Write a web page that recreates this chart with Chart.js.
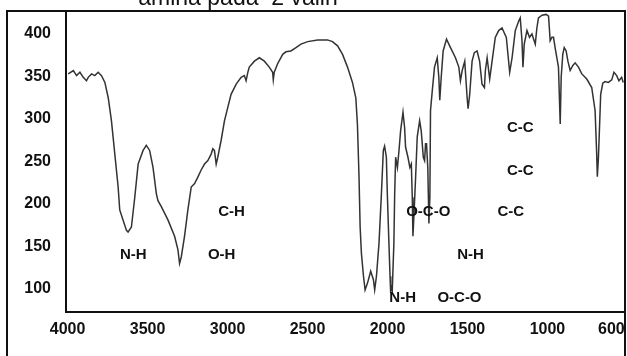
<!DOCTYPE html>
<html>
<head>
<meta charset="utf-8">
<script src="https://cdn.jsdelivr.net/npm/chart.js@4"></script>
<style>
  html, body { margin: 0; padding: 0; background: #fff; overflow: hidden; }
  #wrap { position: relative; width: 640px; height: 356px; }
</style>
</head>
<body>
<div id="wrap"><canvas id="spektrum"></canvas></div>
<script>
// bilangan gelombang (cm-1) dan intensitas
const wavenumber = [
  3996, 3964, 3944, 3923, 3902, 3882, 3871, 3850, 3830, 3809, 3788, 3767, 3746, 3726, 3705, 3684,
  3674, 3653, 3632, 3622, 3601, 3580, 3559, 3528, 3508, 3487, 3466, 3445, 3435, 3414, 3372, 3331,
  3310, 3300, 3289, 3269, 3248, 3227, 3206, 3185, 3165, 3144, 3123, 3102, 3092, 3082, 3071, 3061,
  3040, 3019, 2998, 2978, 2946, 2915, 2895, 2884, 2873, 2864, 2832, 2801, 2770, 2739, 2718, 2714,
  2708, 2687, 2655, 2635, 2604, 2572, 2541, 2499, 2437, 2375, 2344, 2312, 2281, 2250, 2219, 2198,
  2188, 2178, 2171, 2163, 2150, 2140, 2125, 2105, 2088, 2080, 2069, 2053, 2038, 2026, 2018, 2007,
  2001, 1991, 1984, 1980, 1976, 1970, 1960, 1955, 1949, 1938, 1928, 1918, 1903, 1893, 1887, 1872,
  1860, 1851, 1845, 1841, 1835, 1824, 1814, 1799, 1789, 1776, 1768, 1762, 1756, 1748, 1741, 1735,
  1731, 1720, 1706, 1689, 1679, 1673, 1664, 1652, 1631, 1606, 1575, 1554, 1544, 1533, 1517, 1502,
  1496, 1486, 1471, 1457, 1440, 1424, 1409, 1394, 1388, 1377, 1361, 1346, 1326, 1305, 1284, 1257,
  1236, 1221, 1201, 1180, 1170, 1159, 1153, 1145, 1128, 1112, 1097, 1076, 1066, 1056, 1034, 1008,
  993, 987, 983, 972, 962, 952, 941, 931, 920, 914, 904, 895, 883, 872, 858, 841,
  827, 806, 785, 754, 723, 702, 692, 688, 681, 667, 654, 640, 619, 598, 584, 567,
  553, 536, 526
];
const intensitas = [
  353, 357, 351, 355, 349, 345, 349, 353, 351, 355, 351, 343, 325, 298, 259, 220,
  193, 181, 169, 167, 173, 208, 247, 263, 269, 263, 243, 212, 204, 197, 181, 162,
  146, 130, 138, 162, 193, 220, 224, 232, 240, 247, 251, 259, 265, 263, 247, 255,
  275, 298, 314, 329, 341, 349, 351, 345, 355, 361, 368, 372, 368, 361, 355, 346,
  355, 365, 376, 379, 380, 384, 388, 391, 393, 393, 391, 386, 376, 361, 343, 325,
  294, 232, 173, 142, 115, 99, 107, 121, 111, 99, 115, 154, 212, 263, 268, 255,
  212, 154, 115, 95, 103, 99, 154, 212, 255, 243, 263, 286, 308, 290, 267, 255,
  243, 247, 208, 162, 185, 232, 279, 298, 286, 255, 251, 271, 271, 243, 177, 208,
  310, 333, 361, 372, 349, 322, 349, 380, 394, 384, 372, 361, 345, 357, 368, 325,
  312, 329, 368, 378, 380, 368, 341, 337, 357, 372, 347, 368, 396, 404, 407, 396,
  355, 372, 404, 415, 419, 392, 361, 388, 404, 396, 400, 388, 407, 419, 422, 423,
  421, 404, 392, 396, 396, 384, 372, 361, 294, 349, 376, 384, 380, 368, 357, 363,
  366, 361, 353, 347, 337, 310, 259, 232, 255, 329, 342, 344, 343, 346, 355, 351,
  345, 349, 343
];

const xTicks = [4000, 3500, 3000, 2500, 2000, 1500, 1000, 600];
const yTicks = [100, 150, 200, 250, 300, 350, 400];

// label gugus fungsi
const gugusTeks = ['N-H', 'O-H', 'C-H', 'O-C-O', 'C-C', 'N-H', 'N-H', 'O-C-O', 'C-C', 'C-C'];
const gugusX    = [3589, 3037, 2975, 1745, 1229, 1481, 1905, 1550, 1170, 1170];
const gugusY    = [140, 140, 191, 191, 191, 140, 90, 90, 289, 239];

const judul = 'amina pada  2 valin';

const bingkai = {
  id: 'bingkai',
  afterDraw(chart) {
    const ctx = chart.ctx;
    const a = chart.chartArea;
    const sx = chart.scales.x, sy = chart.scales.y;
    ctx.save();
    ctx.strokeStyle = '#111';
    ctx.lineWidth = 2;
    ctx.beginPath();
    ctx.moveTo(7, 356); ctx.lineTo(7, a.top); ctx.lineTo(a.right, a.top); ctx.lineTo(a.right, 356);
    ctx.stroke();

    ctx.fillStyle = '#111';
    ctx.font = 'bold 15px "Liberation Sans", Arial, sans-serif';
    ctx.textAlign = 'center';
    ctx.textBaseline = 'middle';
    gugusTeks.forEach((t, i) => {
      ctx.fillText(t, sx.getPixelForValue(gugusX[i]), sy.getPixelForValue(gugusY[i]));
    });

    ctx.font = '23px "Liberation Sans", Arial, sans-serif';
    ctx.textBaseline = 'alphabetic';
    ctx.fillText(judul, 238, 5);
    ctx.restore();
  }
};

const fontTick = { family: '"Liberation Sans", Arial, sans-serif', size: 16, weight: 'bold' };

new Chart(document.getElementById('spektrum'), {
  type: 'line',
  data: {
    datasets: [{
      data: wavenumber.map((w, i) => ({ x: w, y: intensitas[i] })),
      borderColor: '#333',
      borderWidth: 1.5,
      pointRadius: 0,
      tension: 0,
      fill: false
    }]
  },
  options: {
    responsive: true,
    maintainAspectRatio: false,
    animation: false,
    layout: { padding: { top: 11, right: 15, left: 0, bottom: 0 } },
    plugins: { legend: { display: false }, tooltip: { enabled: false } },
    scales: {
      x: {
        type: 'linear',
        reverse: true,
        min: 515,
        max: 4010,
        afterBuildTicks: s => { s.ticks = xTicks.map(v => ({ value: v })); },
        afterFit: s => { s.height = 44; s.paddingLeft = 0; s.paddingRight = 0; },
        grid: { display: false, drawTicks: false },
        border: { display: true, color: '#111', width: 2 },
        ticks: {
          padding: 8,
          color: '#111',
          font: fontTick,
          maxRotation: 0,
          autoSkip: false,
          callback: v => String(v)
        }
      },
      y: {
        min: 73,
        max: 427,
        afterBuildTicks: s => { s.ticks = yTicks.map(v => ({ value: v })); },
        afterFit: s => { s.width = 66; s.paddingTop = 0; s.paddingBottom = 0; },
        grid: { display: false, drawTicks: false },
        border: { display: true, color: '#111', width: 2 },
        ticks: {
          padding: 15,
          color: '#111',
          font: fontTick,
          callback: v => String(v)
        }
      }
    }
  },
  plugins: [bingkai]
});
</script>
</body>
</html>
